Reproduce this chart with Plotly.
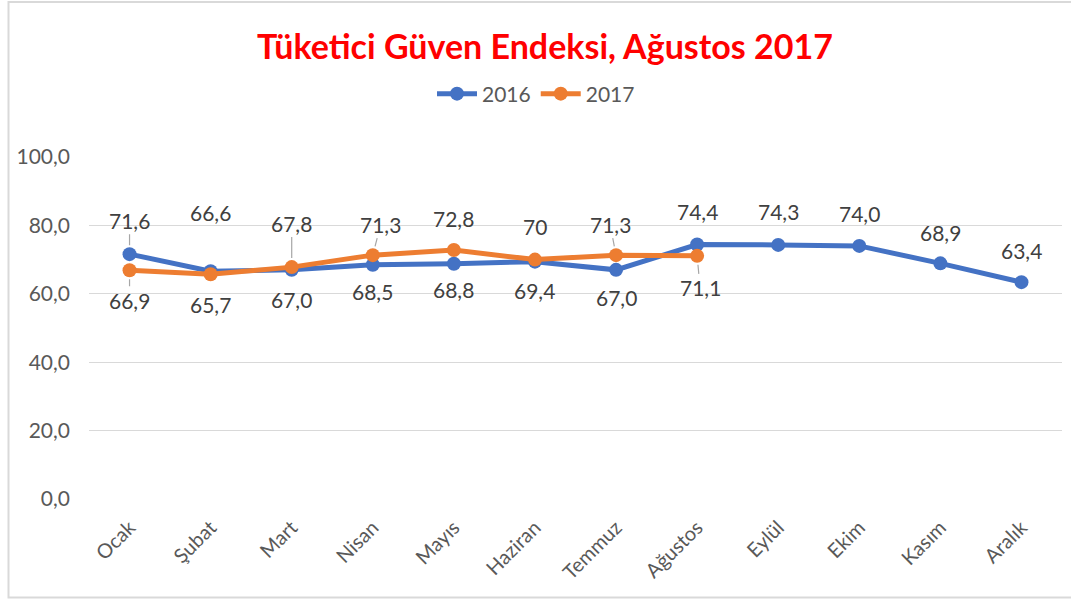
import plotly.graph_objects as go

months = ["Ocak", "Şubat", "Mart", "Nisan", "Mayıs", "Haziran", "Temmuz",
          "Ağustos", "Eylül", "Ekim", "Kasım", "Aralık"]
values_2016 = [71.6, 66.6, 67.0, 68.5, 68.8, 69.4, 67.0, 74.4, 74.3, 74.0, 68.9, 63.4]
values_2017 = [66.9, 65.7, 67.8, 71.3, 72.8, 70.0, 71.3, 71.1]
labels_2016 = ["71,6", "66,6", "67,0", "68,5", "68,8", "69,4", "67,0", "74,4", "74,3", "74,0", "68,9", "63,4"]
labels_2017 = ["66,9", "65,7", "67,8", "71,3", "72,8", "70", "71,3", "71,1"]
y_ticks = [0, 20, 40, 60, 80, 100]

BLUE = "#4472C4"
ORANGE = "#ED7D31"
FONT = "Lato"

# label placement: (dx px, dy px (positive = down), leader line?)
place_2016 = [(0, -34, True), (0, -59, False), (0, 30, False), (0, 27, False), (0, 26, False),
              (0, 29, False), (0, 28, False), (0, -33, False), (0, -33, False), (0, -32, False),
              (0, -31, False), (0, -32, False)]
place_2017 = [(0, 30, True), (0, 30, False), (0, -44, True), (8, -31, True), (0, -32, False),
              (0, -33, False), (-6, -31, True), (3, 32, True)]

W, H = 1071, 599
ML, MR, MT, MB = 89, 9, 157, 100
PW, PH = W - ML - MR, H - MT - MB

fig = go.Figure()
for name, vals, col in [("2016", values_2016, BLUE), ("2017", values_2017, ORANGE)]:
    fig.add_trace(go.Scatter(
        x=months[:len(vals)], y=vals, name=name, mode="lines+markers",
        line=dict(color=col, width=5),
        marker=dict(color=col, size=14),
    ))

annotations = []
for vals, labs, place in [(values_2016, labels_2016, place_2016), (values_2017, labels_2017, place_2017)]:
    for i, (v, t) in enumerate(zip(vals, labs)):
        dx, dy, leader = place[i]
        annotations.append(dict(
            x=months[i], y=v, text=t, xref="x", yref="y",
            showarrow=True, ax=dx, ay=dy, axref="pixel", ayref="pixel",
            arrowhead=0, arrowwidth=1.2, standoff=9,
            arrowcolor="#A6A6A6" if leader else "rgba(0,0,0,0)",
            font=dict(family=FONT, size=21, color="#404040"),
        ))

def px_x(p):
    return (p - ML) / PW

def px_y(p):
    return 1 - (p - MT) / PH

fig.add_shape(type="rect", xref="paper", yref="paper",
              x0=px_x(8.5), x1=px_x(1090), y0=px_y(597.5), y1=px_y(2),
              line=dict(color="#D9D9D9", width=2), fillcolor="rgba(0,0,0,0)", layer="below")

fig.update_layout(
    width=W, height=H,
    margin=dict(l=ML, r=MR, t=MT, b=MB),
    paper_bgcolor="white", plot_bgcolor="white",
    separators=",.",
    title=dict(text="<b>Tüketici Güven Endeksi, Ağustos 2017</b>",
               x=545 / W, xref="container", xanchor="center",
               y=1 - 47 / H, yref="container", yanchor="middle",
               font=dict(family=FONT, size=34, color="#FF0000")),
    legend=dict(orientation="h", x=536 / W, xref="container", xanchor="center",
                y=1 - 94 / H, yref="container", yanchor="middle",
                font=dict(family=FONT, size=21, color="#595959"),
                itemwidth=40, tracegroupgap=0),
    xaxis=dict(type="category", range=[-0.5, 11.5], tickangle=-45,
               showgrid=False, showline=False, ticks="", ticklabelstandoff=12,
               tickfont=dict(family=FONT, size=20, color="#595959")),
    yaxis=dict(range=[0, 100], tickvals=y_ticks, tickformat=".1f",
               showgrid=True, gridcolor="#D9D9D9", gridwidth=1.3,
               zeroline=False, showline=False, ticks="", ticklabelstandoff=18,
               tickfont=dict(family=FONT, size=21, color="#595959")),
    annotations=annotations,
    showlegend=True,
)

fig.write_html("out.html",
               config={"displayModeBar": False},
               post_script="document.body.style.margin='0';document.body.style.padding='0';window.dispatchEvent(new Event('resize'));")
